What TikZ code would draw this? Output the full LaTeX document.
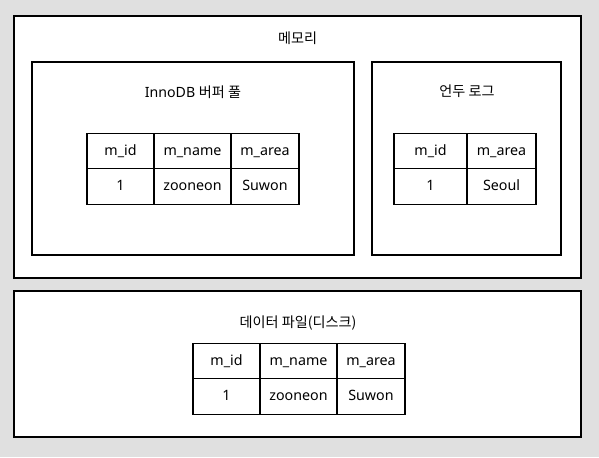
\documentclass[tikz,border=0pt]{standalone}
\usepackage{fontspec}
\setmainfont{Noto Sans}
\newfontfamily\kr{Noto Sans CJK KR}
\definecolor{bggray}{RGB}{224,224,224}
\tikzset{
  box/.style={draw=black, fill=white, line width=0.9pt, inner sep=0pt},
  cell/.style={draw=black, line width=0.9pt, inner sep=0pt, minimum height={35.5*0.75pt}, text height=0.65em, text depth=0pt, font=\fontsize{10.7}{12}\selectfont},
  title/.style={inner sep=0pt, text height=0.65em, text depth=0pt, font=\fontsize{10.6}{12}\selectfont},
  pw/.style={minimum width={#1*0.75pt}},
  ph/.style={minimum height={#1*0.75pt}},
}
\begin{document}
\begin{tikzpicture}[x=0.75pt,y=-0.75pt]
\fill[bggray] (0,0) rectangle (599,457);
\useasboundingbox (0,0) rectangle (599,457);
% containers
\node[box, pw=567, ph=262] (mem) at (297.5,147) {};
\node[box, pw=322, ph=193] (innodb) at (193,158.5) {};
\node[box, pw=189, ph=193] (undo) at (466.5,158.5) {};
\node[box, pw=567, ph=146] (disk) at (297.5,364) {};
% titles
\node[title] (tmem) at (297.5,39.3) {\kr 메모리};
\node[title] (tinno) at (193,93) {InnoDB {\kr 버퍼 풀}};
\node[title] (tundo) at (467,92) {\kr 언두 로그};
\node[title] (tdisk) at (298,323.3) {\kr 데이터 파일(디스크)};
% InnoDB table
\node[cell, pw=67] (a11) at (120.5,151) {m\_id};
\node[cell, pw=77] (a12) at (192.5,151) {m\_name};
\node[cell, pw=68] (a13) at (265,151) {m\_area};
\node[cell, pw=67] (a21) at (120.5,186.5) {1};
\node[cell, pw=77] (a22) at (192.5,186.5) {zooneon};
\node[cell, pw=68] (a23) at (265,186.5) {Suwon};
% Undo table
\node[cell, pw=73] (b11) at (430.5,151) {m\_id};
\node[cell, pw=69] (b12) at (501.5,151) {m\_area};
\node[cell, pw=73] (b21) at (430.5,186.5) {1};
\node[cell, pw=69] (b22) at (501.5,186.5) {Seoul};
% Disk table
\node[cell, pw=67] (c11) at (226.5,361) {m\_id};
\node[cell, pw=77] (c12) at (298.5,361) {m\_name};
\node[cell, pw=68] (c13) at (371,361) {m\_area};
\node[cell, pw=67] (c21) at (226.5,396.5) {1};
\node[cell, pw=77] (c22) at (298.5,396.5) {zooneon};
\node[cell, pw=68] (c23) at (371,396.5) {Suwon};
\end{tikzpicture}
\end{document}
